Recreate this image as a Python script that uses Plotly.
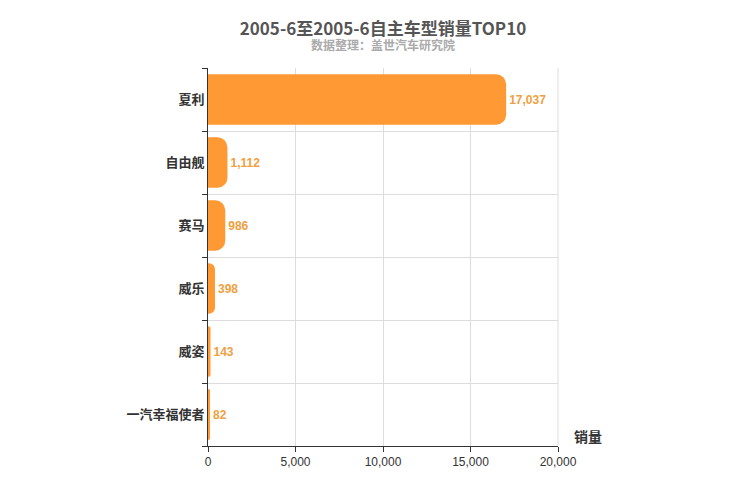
import plotly.graph_objects as go

categories = ["夏利", "自由舰", "赛马", "威乐", "威姿", "一汽幸福使者"]
values = [17037, 1112, 986, 398, 143, 82]
labels = [f"<b>{v:,}</b>" for v in values]

fig = go.Figure(go.Bar(
    x=values[::-1], y=categories[::-1], orientation="h",
    marker=dict(color="#FF9933", line=dict(width=0), cornerradius=10),
    width=0.8, text=labels[::-1], textposition="outside",
    textfont=dict(color="#F0A040", size=12, family="Arial"), cliponaxis=False,
))
fig.update_layout(
    width=750, height=500, plot_bgcolor="white", paper_bgcolor="white",
    margin=dict(l=200, r=200, t=60, b=62), showlegend=False,
    font=dict(family="Noto Sans CJK SC, Arial", color="#333"),
    title=dict(text="<b>2005-6至2005-6自主车型销量TOP10</b>", x=0.5, xanchor="center", y=0.97,
               font=dict(size=17, color="#555")),
    annotations=[
        dict(text="<b>数据整理：盖世汽车研究院</b>", xref="paper", yref="paper", x=0.5, y=1.09,
             xanchor="center", showarrow=False, font=dict(size=12, color="#aaa")),
        dict(text="<b>销量</b>", xref="paper", yref="paper", x=1.04, y=-0.005,
             xanchor="left", yanchor="bottom", showarrow=False, font=dict(size=14, color="#333")),
    ],
    xaxis=dict(range=[0, 20000], tickvals=[0, 5000, 10000, 15000, 20000], tickformat=",",
               showgrid=True, gridcolor="#ddd", zeroline=False, showline=True, linecolor="#333",
               ticks="outside", tickcolor="#333", automargin=False,
               tickfont=dict(size=12, color="#333", family="Arial")),
    yaxis=dict(tickson="boundaries", showgrid=True, gridcolor="#ddd", showline=True, linecolor="#333",
               ticks="outside", tickcolor="#333", ticklen=5, automargin=False,
               ticktext=[f"<b>{c}</b>" for c in categories[::-1]], tickvals=categories[::-1],
               tickfont=dict(size=13, color="#333")),
)
fig.add_shape(type="line", xref="paper", yref="paper", x0=1, x1=1, y0=0, y1=1, line=dict(color="#ddd", width=1))
fig.write_html("out.html")
